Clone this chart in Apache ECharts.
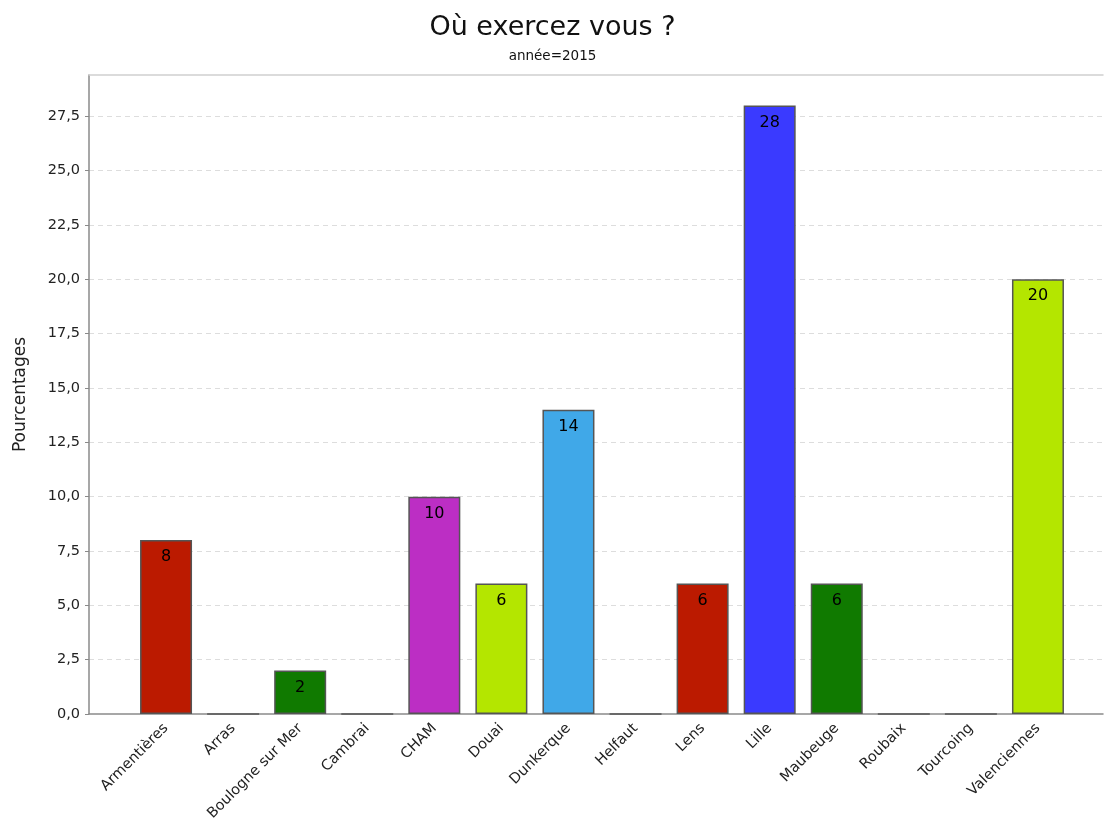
<!DOCTYPE html>
<html>
<head>
<meta charset="utf-8">
<script src="https://cdn.jsdelivr.net/npm/echarts@6/dist/echarts.min.js"></script>
<style>
  html, body { margin: 0; padding: 0; background: #fff; }
  #chart { width: 1105px; height: 838px; }
</style>
</head>
<body>
<div id="chart"></div>
<script>
// Répartition des lieux d'exercice, année 2015 (en %)
const villes = ['Armentières', 'Arras', 'Boulogne sur Mer', 'Cambrai', 'CHAM', 'Douai', 'Dunkerque',
  'Helfaut', 'Lens', 'Lille', 'Maubeuge', 'Roubaix', 'Tourcoing', 'Valenciennes'];
const pourcentages = [8, 0, 2, 0, 10, 6, 14, 0, 6, 28, 6, 0, 0, 20];
// Palette cyclique de 8 couleurs
const palette = ['#BB1A00', '#3A3AFF', '#107A00', '#E0A000', '#BC2EC4', '#B4E600', '#40A8E8', '#888888'];

const Y_MAX = 29.4;
const fmt = v => v.toFixed(1).replace('.', ',');
const FONT = 'DejaVu Sans';

const chart = echarts.init(document.getElementById('chart'), null, { renderer: 'canvas' });

chart.setOption({
  backgroundColor: '#ffffff',
  animation: false,
  title: {
    text: 'Où exercez vous ?',
    subtext: 'année=2015',
    left: 'center',
    top: 9,
    itemGap: 8,
    textStyle: { fontFamily: FONT, fontSize: 27, fontWeight: 'normal', color: '#111' },
    subtextStyle: { fontFamily: FONT, fontSize: 13.5, color: '#111' }
  },
  grid: [
    // cadre du graphique : axes et lignes de repère
    { left: 89, right: 2, top: 75, bottom: 124 },
    // zone des barres (avec les marges de catégorie)
    { left: 132.5, width: 939, top: 75, bottom: 124 }
  ],
  xAxis: [
    {
      gridIndex: 0, type: 'value', position: 'bottom', min: 0, max: 1,
      axisLine: { show: true, lineStyle: { color: '#8a8a8a', width: 1.5 } },
      axisTick: { show: false }, axisLabel: { show: false }, splitLine: { show: false }
    },
    {
      gridIndex: 0, type: 'value', position: 'top', min: 0, max: 1,
      axisLine: { show: true, lineStyle: { color: '#d0d0d0', width: 1.5 } },
      axisTick: { show: false }, axisLabel: { show: false }, splitLine: { show: false }
    },
    {
      gridIndex: 1, type: 'category', data: villes, boundaryGap: true,
      axisLine: { show: false },
      axisTick: { show: false },
      axisLabel: {
        interval: 0, rotate: 45, margin: 12,
        fontFamily: FONT, fontSize: 14.5, color: '#222'
      }
    }
  ],
  yAxis: [
    {
      gridIndex: 0, type: 'value', min: 0, max: Y_MAX, interval: 2.5,
      name: 'Pourcentages', nameLocation: 'middle', nameGap: 60, nameRotate: 90,
      nameTextStyle: { fontFamily: FONT, fontSize: 17, color: '#222' },
      axisLine: { show: true, lineStyle: { color: '#8a8a8a', width: 1.5 } },
      axisTick: { show: true, length: 4, lineStyle: { color: '#8a8a8a' } },
      axisLabel: {
        showMaxLabel: false, margin: 9,
        fontFamily: FONT, fontSize: 14.5, color: '#222',
        formatter: v => fmt(v)
      },
      splitLine: {
        show: true, showMinLine: false, showMaxLine: false,
        lineStyle: { color: '#dddddd', type: [5, 4], width: 1 }
      }
    },
    {
      gridIndex: 1, type: 'value', min: 0, max: Y_MAX, show: false,
      splitLine: { show: false }
    }
  ],
  series: [{
    type: 'bar',
    xAxisIndex: 2,
    yAxisIndex: 1,
    barWidth: 52,
    data: pourcentages.map((v, i) => ({
      value: v,
      itemStyle: { color: palette[i % palette.length] }
    })),
    itemStyle: { borderColor: '#555555', borderWidth: 1.5 },
    label: {
      show: true, position: 'insideTop', distance: 9,
      fontFamily: FONT, fontSize: 16, color: '#000',
      formatter: p => (p.value ? String(p.value) : '')
    }
  }]
});
</script>
</body>
</html>
